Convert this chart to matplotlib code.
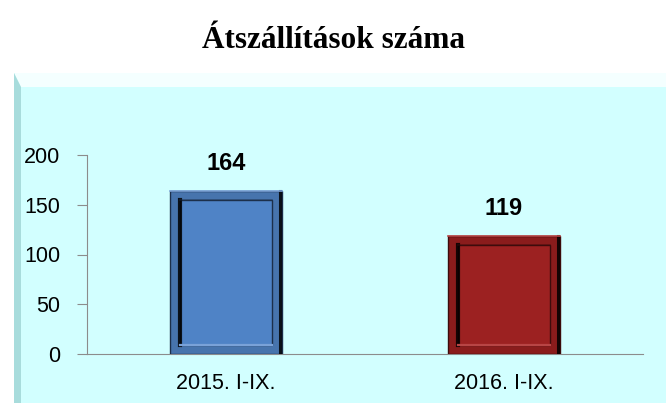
import matplotlib.pyplot as plt
from matplotlib.patches import Rectangle, Polygon

# atszallitasok szama, ket idoszak
categories = ["2015. I-IX.", "2016. I-IX."]
values = [164, 119]
bar_colors = ["#4f83c6", "#9c2121"]
band_colors = ["#4774ad", "#8a1c1c"]
edge_dark = ["#1c2f4a", "#3d0c0c"]
edge_light = ["#7aa2d8", "#b84545"]
yticks = [0, 50, 100, 150, 200]

fig = plt.figure(figsize=(6.66, 4.03), dpi=100)
fig.patch.set_facecolor("white")

# cian hatterlap, bal es felso peremmel
W, H = 666, 403
def fx(px):
    return px / W
def fy(py):
    return 1 - py / H

fig.patches.append(Rectangle((fx(14), 0), 1 - fx(14), fy(73), transform=fig.transFigure,
                             facecolor="#d2ffff", edgecolor="none", zorder=-3))
fig.patches.append(Polygon([(fx(14), fy(73)), (1, fy(73)), (1, fy(87)), (fx(21), fy(87))],
                           closed=True, transform=fig.transFigure,
                           facecolor="#f4ffff", edgecolor="none", zorder=-2))
fig.patches.append(Polygon([(fx(14), fy(73)), (fx(21), fy(87)), (fx(21), 0), (fx(14), 0)],
                           closed=True, transform=fig.transFigure,
                           facecolor="#a8dcdc", edgecolor="none", zorder=-2))

fig.text(0.5, fy(41), "Átszállítások száma", ha="center", va="center",
         fontsize=22.5, fontweight="bold", family="Liberation Serif")

ax = fig.add_axes([fx(87), fy(354), fx(643) - fx(87), fy(155) - fy(354)])
ax.patch.set_alpha(0)

x = range(len(categories))
bars = ax.bar(x, values, width=0.4, color=band_colors, edgecolor=edge_dark, linewidth=1.0, zorder=3)

# belso lap es keret a domboru hatashoz
for b, face, light, dark in zip(bars, bar_colors, edge_light, edge_dark):
    bx, bw, bh = b.get_x(), b.get_width(), b.get_height()
    dx = bw * 0.09
    dy = 200 * 0.045
    inner = Rectangle((bx + dx, dy), bw - 2 * dx, bh - 2 * dy, facecolor=face,
                      edgecolor=dark, linewidth=1.0, alpha=1, zorder=4)
    ax.add_patch(inner)
    ax.plot([bx + dx, bx + dx], [dy, bh - dy], color="#000000", lw=3, alpha=0.85, zorder=5)
    ax.plot([bx + bw - dx * 0.15, bx + bw - dx * 0.15], [0, bh], color="#000000", lw=2.2, alpha=0.85, zorder=5)
    ax.plot([bx + dx, bx + bw - dx], [bh - dy, bh - dy], color=dark, lw=1.2, alpha=0.45, zorder=5)
    ax.plot([bx + dx, bx + bw - dx], [dy, dy], color=light, lw=1.6, zorder=5)
    ax.plot([bx, bx + bw], [bh, bh], color=light, lw=1.2, zorder=5)

for b, v in zip(bars, values):
    ax.text(b.get_x() + b.get_width() / 2, v + 16, str(v), ha="center", va="bottom",
            fontsize=17, fontweight="bold", family="Liberation Sans")

ax.set_ylim(0, 200)
ax.set_xlim(-0.5, 1.5)
ax.set_yticks(yticks)
ax.set_xticks(list(x))
ax.set_xticklabels(categories)
for lab in ax.get_xticklabels() + ax.get_yticklabels():
    lab.set_fontsize(15.5)
    lab.set_family("Liberation Sans")

ax.spines["top"].set_visible(False)
ax.spines["right"].set_visible(False)
ax.spines["left"].set_color("#8c8c8c")
ax.spines["bottom"].set_color("#8c8c8c")
ax.tick_params(axis="y", direction="out", length=7, color="#8c8c8c", pad=12)
ax.tick_params(axis="x", length=0, pad=14)

fig.savefig("out.png", dpi=100)
